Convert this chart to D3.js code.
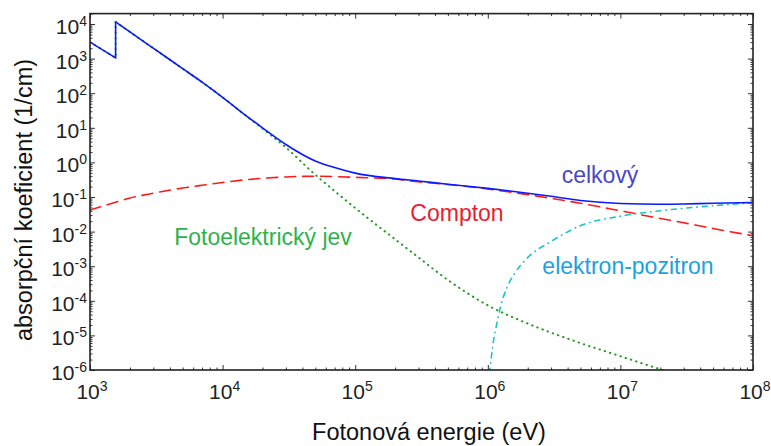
<!DOCTYPE html>
<html>
<head>
<meta charset="utf-8">
<script src="https://cdn.jsdelivr.net/npm/d3@7"></script>
<style>
  body { margin: 0; background: #fff; }
  svg { font-family: "Liberation Sans", Arial, sans-serif; }
</style>
</head>
<body>
<svg id="chart" width="771" height="446"></svg>
<script>
// energies in eV (the K edge appears twice: before and after the jump)
var energyPhoto = [1e3, 1.56e3, 1.56e3, 2e3, 3e3, 5e3, 7e3, 1e4, 1.5e4, 2e4, 3e4, 5e4, 7e4, 1e5, 2e5, 3e5, 5e5, 1e6, 2e6, 3e6, 5e6, 1e7, 2e7, 3e7];
var photo = [3000, 1050, 11500, 5900, 2000, 513, 209, 76, 22.4, 9.5, 2.7, 0.44, 0.148, 0.048, 0.006, 0.0018, 4.0e-4, 7.4e-5, 2.2e-5, 1.2e-5, 6.0e-6, 2.5e-6, 1.05e-6, 6.3e-7];

var energyCompton = [1e3, 1.56e3, 2e3, 3e3, 5e3, 7e3, 1e4, 1.5e4, 2e4, 3e4, 5e4, 7e4, 1e5, 2e5, 3e5, 5e5, 1e6, 2e6, 3e6, 5e6, 1e7, 2e7, 3e7, 5e7, 1e8];
var compton = [0.042, 0.071, 0.093, 0.129, 0.182, 0.219, 0.263, 0.316, 0.347, 0.38, 0.40, 0.39, 0.37, 0.33, 0.275, 0.23, 0.17, 0.117, 0.091, 0.066, 0.040, 0.024, 0.018, 0.0123, 0.0076];

var energyPair = [1.03e6, 1.1e6, 1.15e6, 1.25e6, 1.4e6, 1.6e6, 2e6, 3e6, 5e6, 1e7, 2e7, 3e7, 5e7, 1e8];
var pair = [8e-7, 6.3e-6, 1.6e-5, 7e-5, 2.5e-4, 6.3e-4, 1.78e-3, 5.2e-3, 0.0148, 0.028, 0.040, 0.047, 0.056, 0.068];

var energyTotal = [1e3, 1.56e3, 1.56e3, 2e3, 3e3, 5e3, 7e3, 1e4, 1.5e4, 2e4, 3e4, 5e4, 7e4, 1e5, 2e5, 3e5, 5e5, 1e6, 2e6, 3e6, 5e6, 1e7, 2e7, 3e7, 5e7, 1e8];
var total = [3000, 1050, 11500, 5900, 2000, 513, 209, 76, 22.6, 10.0, 3.3, 1.10, 0.71, 0.49, 0.34, 0.29, 0.234, 0.178, 0.129, 0.105, 0.079, 0.065, 0.062, 0.063, 0.066, 0.069];

var xTickExp = [3, 4, 5, 6, 7, 8];
var yTickExp = [-6, -5, -4, -3, -2, -1, 0, 1, 2, 3, 4];

(function() {
var svg = d3.select("#chart");
var left = 90, right = 753, plotTop = 13.6, bottom = 370;

var x = d3.scaleLog().domain([1e3, 1e8]).range([left, right]);
var y = d3.scaleLog().domain([1e-6, 2e4]).range([bottom, plotTop]);

function minors(lo, hi) {
  var out = [];
  for (var e = lo; e < hi; e++)
    for (var k = 2; k <= 9; k++) out.push(k * Math.pow(10, e));
  return out;
}
var xMajor = xTickExp.map(function(e) { return Math.pow(10, e); });
var yMajor = yTickExp.map(function(e) { return Math.pow(10, e); });
var xMinor = minors(3, 8);
var yMinor = minors(-6, 5).filter(function(v) { return v <= 2e4; });

svg.append("defs").append("clipPath").attr("id", "plot")
  .append("rect").attr("x", left).attr("y", plotTop)
  .attr("width", right - left).attr("height", bottom - plotTop);

function addAxis(axis, transform) {
  var g = svg.append("g").attr("transform", transform).call(axis);
  g.select(".domain").remove();
  g.selectAll("line").attr("stroke", "#333").attr("stroke-width", 1);
  return g;
}

// major and minor ticks, inward on all four sides
addAxis(d3.axisBottom(x).tickValues(xMajor).tickSize(-5).tickFormat(""), "translate(0," + bottom + ")");
addAxis(d3.axisBottom(x).tickValues(xMinor).tickSize(-2.5).tickFormat(""), "translate(0," + bottom + ")");
addAxis(d3.axisTop(x).tickValues(xMajor).tickSize(-5).tickFormat(""), "translate(0," + plotTop + ")");
addAxis(d3.axisTop(x).tickValues(xMinor).tickSize(-2.5).tickFormat(""), "translate(0," + plotTop + ")");
addAxis(d3.axisLeft(y).tickValues(yMajor).tickSize(-5).tickFormat(""), "translate(" + left + ",0)");
addAxis(d3.axisLeft(y).tickValues(yMinor).tickSize(-2.5).tickFormat(""), "translate(" + left + ",0)");
addAxis(d3.axisRight(y).tickValues(yMajor).tickSize(-5).tickFormat(""), "translate(" + right + ",0)");
addAxis(d3.axisRight(y).tickValues(yMinor).tickSize(-2.5).tickFormat(""), "translate(" + right + ",0)");

// tick labels with superscript exponents
function powLabel(sel, e) {
  sel.append("tspan").text("10");
  sel.append("tspan").attr("font-size", 14).attr("dy", -8)
    .text(e < 0 ? "-" + (-e) : "" + e);
}

svg.append("g").selectAll("text")
  .data(xTickExp).enter().append("text")
    .attr("x", function(d) { return x(Math.pow(10, d)) + 2; })
    .attr("y", bottom + 29)
    .attr("font-size", 21)
    .attr("fill", "#222")
    .style("text-anchor", "middle")
    .each(function(d) { powLabel(d3.select(this), d); });

svg.append("g").selectAll("text")
  .data(yTickExp).enter().append("text")
    .attr("x", left - 3)
    .attr("y", function(d) { return y(Math.pow(10, d)) + 10; })
    .attr("font-size", 21)
    .attr("fill", "#222")
    .style("text-anchor", "end")
    .each(function(d) { powLabel(d3.select(this), d); });

// curves
var plot = svg.append("g").attr("clip-path", "url(#plot)");

function draw(xs, ys, color, width, dash, smooth) {
  var line = d3.line()
    .x(function(d, i) { return x(xs[i]); })
    .y(function(d) { return y(d); })
    .curve(smooth ? d3.curveMonotoneX : d3.curveLinear);
  plot.append("path")
    .attr("d", line(ys))
    .attr("fill", "none")
    .attr("stroke", color)
    .attr("stroke-width", width)
    .attr("stroke-dasharray", dash)
    .attr("stroke-linecap", dash ? "round" : "butt");
}

// curves with the absorption edge: straight part up to the jump, smooth after
function drawEdge(xs, ys, color, width, dash) {
  draw(xs.slice(0, 3), ys.slice(0, 3), color, width, dash, false);
  draw(xs.slice(2), ys.slice(2), color, width, dash, true);
}

drawEdge(energyPhoto, photo, "#2a9a2a", 2, "0.5,5");
draw(energyCompton, compton, "#ff1a1a", 1.6, "11,7", true);
draw(energyPair, pair, "#19c4c4", 1.6, "5,5,0.5,5", true);
drawEdge(energyTotal, total, "#0a1aff", 1.6, null);

// frame
svg.append("rect")
  .attr("x", left).attr("y", plotTop)
  .attr("width", right - left).attr("height", bottom - plotTop)
  .attr("fill", "none").attr("stroke", "#222").attr("stroke-width", 1.6);

// curve labels
var labels = [
  { text: "celkový", x: 600, y: 183, color: "#4a46c6" },
  { text: "Compton", x: 457, y: 221, color: "#ec1c30" },
  { text: "Fotoelektrický jev", x: 263, y: 245, color: "#2fb24a" },
  { text: "elektron-pozitron", x: 628, y: 274, color: "#1aa2e0" }
];
svg.append("g").selectAll("text")
  .data(labels).enter().append("text")
    .attr("x", function(d) { return d.x; })
    .attr("y", function(d) { return d.y; })
    .attr("fill", function(d) { return d.color; })
    .attr("font-size", 23)
    .style("text-anchor", "middle")
    .text(function(d) { return d.text; });

// axis titles
svg.append("text")
  .attr("x", 429).attr("y", 440)
  .attr("font-size", 23.5)
  .attr("fill", "#111")
  .style("text-anchor", "middle")
  .text("Fotonová energie (eV)");

svg.append("text")
  .attr("transform", "translate(32,200) rotate(-90)")
  .attr("font-size", 23.5)
  .attr("fill", "#111")
  .style("text-anchor", "middle")
  .text("absorpční koeficient (1/cm)");
})();
</script>
</body>
</html>
